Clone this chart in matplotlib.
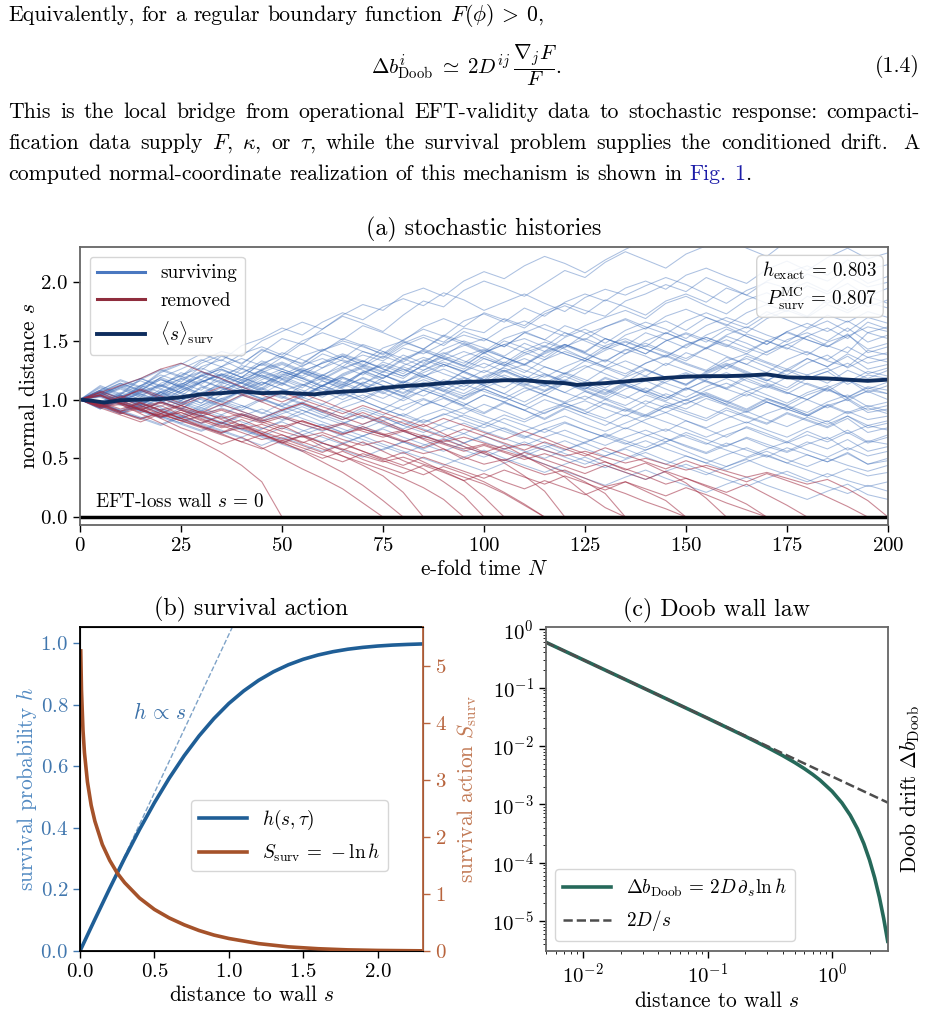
import numpy as np
import matplotlib
matplotlib.use("Agg")
import matplotlib.pyplot as plt
from matplotlib.lines import Line2D

plt.rcParams['font.family'] = 'cmr10'
plt.rcParams['mathtext.fontset'] = 'cm'
plt.rcParams['axes.formatter.use_mathtext'] = True
plt.rcParams['axes.unicode_minus'] = False

# ---------------- data ----------------
# panel (a): surviving histories, s in hundredths, evenly spread over N = 0..200
surviving = [
    [100,106,98,112,121,115,128,134,126,140,152,147,160,171,165,158,172,184,179,193,201,195,188,199,210,204,217,226,219,212,224,231,238,229,222,235,242,236,247,241,240],
    [100,112,105,118,126,120,133,141,137,150,158,166,160,172,181,176,189,195,188,201,209,203,214,222,216,208,219,228,236,230,241,248,239,245,256,249,242,253,261,255,250],
    [100,94,103,110,104,117,123,118,129,125,136,131,142,150,145,139,151,160,154,167,173,166,178,171,183,190,184,195,201,194,206,212,205,199,211,218,210,221,229,220,225],
    [100,105,111,104,97,108,115,122,117,110,121,129,135,128,141,136,148,155,149,161,157,169,163,175,182,176,171,184,190,198,192,204,197,189,201,208,214,206,219,211,215],
    [100,108,116,110,123,130,139,133,146,152,161,155,166,174,168,179,186,180,191,185,176,183,190,182,175,187,194,189,197,204,198,190,182,193,200,195,207,201,210,199,205],
    [100,97,104,98,109,103,115,121,114,126,132,125,120,131,138,133,144,139,148,155,150,161,167,160,154,163,170,176,169,182,188,180,173,185,191,184,197,190,199,188,195],
    [100,110,103,96,107,114,108,121,127,119,112,124,131,137,129,141,135,128,139,146,152,145,157,151,144,156,162,168,160,171,177,170,163,174,181,175,188,182,191,179,185],
    [100,93,101,108,102,95,106,113,119,112,124,118,111,122,129,123,134,141,135,128,140,147,152,145,157,150,143,155,161,167,159,170,164,157,169,176,170,181,174,183,178],
    [100,104,112,118,111,123,117,128,135,129,140,134,127,138,132,144,150,143,155,149,141,152,158,151,163,157,148,159,166,160,152,163,170,164,175,168,161,172,166,175,170],
    [100,96,89,98,106,99,111,104,115,121,114,125,119,112,123,129,122,134,128,137,143,136,130,141,147,140,152,146,139,150,156,149,160,154,147,158,165,158,167,157,162],
    [100,107,101,112,118,110,121,128,122,133,126,137,143,135,147,141,132,143,137,148,140,131,142,149,143,135,146,152,145,157,150,143,154,148,140,151,157,150,161,149,155],
    [100,92,99,106,112,105,97,108,115,109,120,126,119,113,124,118,129,136,130,124,135,129,140,146,139,133,144,150,143,136,147,153,146,139,150,144,138,149,155,143,148],
    [100,105,99,93,102,110,104,115,108,117,124,118,111,120,127,121,114,125,132,126,137,130,123,134,141,135,128,139,146,140,133,144,137,130,141,147,140,134,145,136,140],
    [100,98,106,100,94,103,97,108,114,107,101,112,118,111,123,116,109,120,126,119,113,124,130,122,116,127,134,127,120,131,125,118,129,135,128,121,131,138,127,136,132],
    [100,103,97,90,99,92,103,110,104,98,107,113,106,118,112,105,115,121,114,108,119,125,118,112,122,129,122,115,125,119,112,123,130,123,116,126,121,114,125,118,125],
    [100,95,102,96,104,111,105,98,107,101,94,103,110,104,115,109,102,113,107,118,112,105,116,122,115,109,119,113,106,117,123,116,110,120,114,108,118,124,113,121,118],
    [100,108,102,95,104,98,91,100,107,101,95,104,112,106,99,109,103,114,108,101,110,117,111,104,114,108,102,112,106,99,109,116,109,103,112,106,100,110,117,106,112],
    [100,94,88,96,103,97,90,99,93,101,108,102,96,105,99,92,101,108,102,95,104,98,107,113,106,100,109,103,96,105,99,108,114,107,101,95,104,110,99,108,105],
    [100,104,110,103,97,106,100,94,103,109,102,96,89,98,104,97,91,100,94,103,109,102,95,88,97,103,96,90,99,93,100,106,99,92,101,95,89,98,104,94,98],
    [100,97,91,99,93,86,95,101,95,88,97,91,84,93,99,92,86,95,101,94,88,97,91,84,93,99,92,86,95,89,97,103,96,90,98,92,86,95,100,89,92],
    [100,106,99,93,101,95,88,96,90,84,92,98,91,85,93,87,95,101,94,88,96,90,83,91,97,90,84,92,86,94,100,93,87,80,88,94,87,81,90,83,86],
    [100,93,98,91,85,93,87,80,88,82,90,96,89,83,91,85,78,86,92,85,79,87,81,89,95,88,82,75,83,89,82,76,84,90,83,77,85,79,86,76,80],
    [100,104,97,91,98,92,86,93,87,81,88,94,87,81,75,82,88,81,87,93,86,80,73,80,86,79,73,80,87,81,75,68,75,81,74,68,76,82,71,78,74],
    [100,95,89,96,90,84,91,85,78,85,91,84,78,72,79,85,78,72,80,87,81,75,68,75,81,74,68,62,69,75,68,62,70,76,69,63,70,64,72,63,68],
    [100,103,96,90,84,91,85,79,86,92,85,79,73,80,86,79,73,67,74,80,73,67,61,68,74,67,61,68,74,67,60,54,61,67,60,55,62,68,57,65,62],
    [100,96,90,84,92,86,80,87,81,75,82,88,81,75,69,76,82,75,69,63,70,76,69,63,57,64,70,63,57,64,70,63,57,51,58,64,57,51,59,52,56],
    [100,94,99,92,86,80,87,81,75,69,76,70,64,71,77,70,64,58,65,71,64,58,52,59,65,58,52,59,65,58,52,46,53,59,52,46,53,47,55,45,50],
    [100,97,91,85,79,86,80,74,68,75,81,74,68,62,69,75,68,62,56,63,69,62,56,50,57,63,56,50,57,63,56,49,43,50,56,49,43,50,44,39,44],
    [100,105,98,92,86,80,74,81,75,69,63,70,76,69,63,57,64,70,63,57,51,58,64,57,51,45,52,58,51,45,52,46,40,47,53,46,40,34,41,35,38],
    [100,94,88,95,89,83,77,71,78,72,66,73,79,72,66,60,54,61,67,60,54,48,55,61,54,48,42,49,55,48,42,36,43,49,42,36,30,37,31,26,30],
    [100,96,90,84,78,85,79,73,67,61,68,62,56,63,69,62,56,50,44,51,57,50,44,38,45,51,44,38,32,39,45,38,32,26,33,39,32,26,20,27,22],
    [100,103,97,91,85,79,73,80,74,68,62,56,63,57,51,58,64,57,51,45,39,46,52,45,39,33,27,34,40,33,27,21,28,34,27,21,15,22,28,19,15],
    [100,111,104,117,125,119,131,138,130,143,136,148,141,152,146,138,149,143,154,147,139,150,144,136,147,140,132,143,137,129,140,134,126,137,131,124,135,128,137,126,130],
    [100,92,101,95,88,97,104,98,91,100,107,101,112,119,113,124,118,130,137,131,142,136,129,140,147,141,152,146,139,150,157,151,145,156,150,143,154,161,152,166,160],
    [100,108,117,111,124,131,125,137,131,142,136,128,139,133,125,118,128,121,114,124,117,110,120,113,106,115,108,101,110,103,96,105,98,91,100,94,87,96,89,95,90],
    [100,106,113,107,119,112,124,118,110,121,114,106,116,109,101,110,103,95,104,97,89,98,91,83,92,85,78,87,80,73,82,75,68,77,71,64,73,66,74,64,70],
    [100,103,109,102,114,120,113,125,119,131,126,120,132,139,133,127,138,131,143,150,144,137,148,141,153,160,152,146,157,151,144,155,162,154,147,158,151,145,156,140,145],
    [100,97,105,112,106,99,110,117,111,123,117,110,121,115,108,119,126,119,113,124,131,124,117,128,122,115,126,133,126,119,113,124,131,124,117,110,121,127,115,124,120],
    [100,104,98,107,101,110,117,110,104,113,120,113,107,100,109,116,109,103,112,119,112,105,98,107,114,107,100,109,116,109,102,111,118,111,104,97,106,112,101,107,100],
    [100,108,101,95,106,113,121,115,126,120,113,124,131,137,130,124,135,142,135,129,140,147,140,134,145,152,145,139,150,157,150,144,155,162,155,149,160,167,158,170,165],
    [100,95,101,108,102,96,105,112,106,115,109,103,112,119,113,107,116,110,104,113,107,101,110,104,98,107,101,95,104,98,92,101,95,89,98,92,86,95,88,93,88],
    [100,102,95,104,111,118,112,106,117,124,118,112,121,128,121,132,126,119,130,124,117,128,135,128,122,133,127,120,131,138,131,125,136,130,123,134,141,133,128,142,138],
    [100,107,114,108,117,111,120,126,119,113,122,116,109,103,112,106,99,108,102,95,104,98,91,100,94,88,97,91,85,94,88,82,91,85,79,88,82,76,84,72,76],
    [100,94,102,109,103,113,120,126,119,131,137,130,142,148,141,135,146,153,146,158,152,145,157,164,157,151,162,169,162,156,167,174,167,161,172,178,171,185,176,188,182],
    [100,105,111,118,112,121,127,120,114,123,130,123,117,126,133,126,120,129,122,116,125,119,112,121,115,109,118,112,106,115,122,115,109,118,111,105,114,108,102,111,108],
    [100,96,103,97,106,112,105,99,108,115,109,103,112,105,114,121,115,108,117,111,120,127,120,114,123,117,110,119,126,119,113,122,129,122,116,125,118,124,131,122,127],
    [100,98,104,97,91,99,93,101,107,100,94,88,96,90,84,92,86,80,88,82,76,84,78,72,80,74,68,76,70,64,72,66,60,68,62,56,64,58,66,56,60],
    [100,104,112,105,99,108,116,110,119,125,118,127,121,114,123,130,124,133,140,133,127,136,130,139,146,139,133,142,148,141,135,144,151,144,138,147,154,146,140,157,152],
    [100,103,110,116,109,118,124,117,110,119,126,119,112,121,128,121,114,123,130,123,116,125,118,111,120,113,106,115,108,101,110,103,96,105,98,91,100,93,101,91,95],
    [100,106,114,108,119,126,134,128,139,145,138,150,157,151,163,157,150,162,169,162,174,168,161,173,180,173,185,179,172,184,190,183,195,189,182,193,200,192,205,196,200],
    [100,94,99,105,98,92,101,95,104,110,103,97,106,113,107,101,110,117,111,105,114,121,114,108,117,111,105,114,120,114,108,117,123,116,110,119,113,107,117,109,115],
    [100,104,97,106,112,106,115,121,114,108,117,123,116,110,119,112,105,114,107,100,109,102,95,104,97,91,100,93,87,96,90,84,93,86,80,89,83,77,86,78,82],
    [100,93,100,107,113,106,115,122,116,125,131,124,118,127,133,126,120,129,136,129,123,132,125,119,128,135,128,122,131,137,130,124,133,139,132,126,135,128,139,131,135],
    [100,97,90,97,91,85,93,87,95,89,83,91,85,79,87,81,75,83,77,71,79,73,67,75,69,63,71,65,59,67,61,55,63,57,51,59,53,47,54,45,48],
    [100,107,101,110,117,111,120,114,123,130,124,118,127,134,128,137,131,125,134,141,135,129,138,145,139,133,142,149,143,137,146,153,147,141,150,157,151,145,154,162,158],
    [100,96,104,98,107,101,95,104,111,105,114,108,102,111,118,112,106,115,109,103,112,119,113,107,116,110,104,113,107,101,110,104,98,107,113,106,100,109,102,110,105],
]
# removed histories, one value every 5 e-folds until the wall is hit
removed = [
    [100,93,96,88,80,72,64,55,44,30,0],
    [100,95,88,93,84,76,70,62,68,59,50,41,33,24,12,0],
    [100,104,96,89,95,87,80,86,78,71,63,69,60,52,44,35,21,0],
    [100,97,90,98,91,84,90,83,77,71,78,70,63,57,64,56,48,41,30,18,0],
    [100,106,99,92,85,91,84,77,83,76,70,63,70,63,56,49,55,47,39,31,17,0],
    [100,94,101,95,88,95,102,96,104,98,91,97,90,83,89,82,74,66,58,49,56,46,35,22,0],
    [100,106,112,118,126,131,124,118,111,104,98,105,99,92,86,80,73,79,71,63,55,61,52,43,34,20,8,0],
    [100,96,89,83,90,84,77,71,64,70,63,57,50,56,49,43,37,44,38,31,37,30,24,31,25,19,26,20,13,7,0],
    [100,107,101,109,103,97,104,111,105,99,106,100,94,88,95,89,83,77,84,78,72,66,73,67,60,54,47,40,46,38,29,16,0],
    [100,95,103,97,90,84,78,72,79,73,67,61,55,62,56,50,44,51,45,39,33,40,34,28,35,29,23,30,24,18,25,19,12,6,0],
    [100,104,97,91,98,92,86,80,87,81,75,82,76,70,77,71,65,59,66,60,54,48,55,49,43,37,44,38,32,39,33,27,21,28,19,10,0],
    [100,96,102,108,101,95,89,96,90,84,91,97,91,85,79,86,80,74,68,75,69,63,57,64,58,52,59,53,47,41,48,42,36,30,37,31,25,17,9,0],
    [100,93,87,81,88,82,76,70,64,58,65,59,53,47,54,48,42,36,43,37,30,21,11,0],
    [100,95,98,91,86,89,82,76,79,71,64,56,47,38,27,14,0],
    [100,96,90,94,87,82,86,80,75,79,73,68,72,66,61,65,59,54,58,51,45,49,42,36,40,33,26,30,22,14,0],
    [100,103,97,92,97,91,86,91,85,80,85,79,74,79,73,68,73,67,62,56,61,55,49,54,48,42,47,41,35,28,33,26,19,11,0],
    [100,95,89,84,88,82,77,72,76,70,65,69,63,58,52,47,51,45,40,34,28,20,10,0],
    [100,104,99,94,98,93,88,92,87,82,86,81,76,80,75,70,74,69,64,68,63,58,62,57,52,56,51,46,50,45,40,44,39,34,38,33,28,32,24,14,0],
    [100,98,92,97,91,95,89,84,88,83,77,82,76,71,75,70,64,69,63,58,62,56,51,45,38,30,20,0],
    [100,94,97,91,85,89,83,78,72,66,70,64,58,52,46,40,33,25,15,0],
]
mean_N = [0,3,6,10,15,20,25,30,35,40,45,50,55,58,62,66,70,75,80,85,90,95,100,105,110,115,120,123,127,130,
          135,140,145,150,155,160,165,170,175,180,185,190,195,200]
mean_s = [1.0,0.99,0.975,0.995,1.0,1.005,1.02,1.045,1.055,1.07,1.055,1.06,1.05,1.045,1.06,1.07,1.075,1.10,1.115,1.125,
          1.14,1.15,1.155,1.165,1.165,1.15,1.14,1.125,1.135,1.14,1.155,1.17,1.185,1.195,1.20,1.20,1.205,1.215,1.19,1.185,
          1.18,1.17,1.16,1.17]

# panel (b)
s_h = [0, 0.05, 0.1, 0.2, 0.3, 0.4, 0.5, 0.6, 0.7, 0.8, 0.9, 1.0, 1.1, 1.2, 1.3, 1.4, 1.5, 1.6, 1.7, 1.8, 1.9, 2.0, 2.1, 2.2, 2.3]
h_vals = [0, 0.0515, 0.1027, 0.2037, 0.3015, 0.3944, 0.4814, 0.5614, 0.6339, 0.6983, 0.7547, 0.8036, 0.8444, 0.8787,
          0.9067, 0.9293, 0.9472, 0.9611, 0.9718, 0.9799, 0.9858, 0.9902, 0.9933, 0.9954, 0.9970]
s_S = [0.005, 0.01, 0.02, 0.03, 0.05, 0.075, 0.1, 0.15, 0.2, 0.25, 0.3, 0.4, 0.5, 0.6, 0.7, 0.8, 0.9, 1.0, 1.2, 1.4, 1.6, 1.8, 2.0, 2.3]
S_vals = [5.27, 4.58, 3.88, 3.48, 2.97, 2.56, 2.28, 1.87, 1.59, 1.37, 1.20, 0.93, 0.73, 0.58, 0.46, 0.36, 0.28, 0.22,
          0.13, 0.073, 0.040, 0.020, 0.010, 0.003]
lin_s = [0, 1.1]
lin_h = [0, 1.13]

# panel (c)
s_c = [0.005, 0.01, 0.02, 0.05, 0.1, 0.2, 0.3, 0.4, 0.5, 0.6, 0.7, 0.8, 1.0, 1.2, 1.4, 1.6, 1.8, 2.0, 2.2, 2.4, 2.6, 2.8]
db_doob = [0.6, 0.3, 0.15, 0.0599, 0.02983, 0.01467, 0.00951, 0.006857, 0.005212, 0.004078, 0.003241, 0.002596,
           0.001671, 0.001059, 0.0006493, 0.0003808, 0.000212, 0.0001112, 5.50e-5, 2.55e-5, 1.106e-5, 4.50e-6]
db_wall = [0.6, 0.3, 0.15, 0.06, 0.03, 0.015, 0.01, 0.0075, 0.006, 0.005, 0.004286, 0.00375, 0.003, 0.0025,
           0.002143, 0.001875, 0.001667, 0.0015, 0.001364, 0.00125, 0.001154, 0.001071]

# ---------------- figure ----------------
W, H = 929, 1024
fig = plt.figure(figsize=(W / 100, H / 100), dpi=100)


def fx(px):
    return px / W


def fy(py):
    return 1 - py / H


PAR = 15.7
TICK = 15.0
LAB = 15.4
LEG = 13.8
TTL = 17.2
SPACE = 7.3

renderer = fig.canvas.get_renderer()


def words_line(words, base, x0, x1=None, weights=None, colors=None):
    txts = [fig.text(0, fy(base), w, fontsize=PAR, va='baseline',
                     color=(colors[i] if colors else 'black')) for i, w in enumerate(words)]
    widths = [t.get_window_extent(renderer).width for t in txts]
    if weights is None:
        weights = [1] * (len(words) - 1)
    if x1 is None:
        gap = SPACE
    else:
        gap = (x1 - x0 - sum(widths)) / sum(weights)
    x = x0
    for i, (t, w) in enumerate(zip(txts, widths)):
        t.set_x(fx(x))
        if i < len(weights):
            x += w + gap * weights[i]


words_line(['Equivalently,', 'for', 'a', 'regular', 'boundary', 'function', r'$F(\phi)\:>\:0$,'], 21, 8)
fig.text(fx(466), fy(65), r'$\Delta b^{i}_{\mathrm{Doob}} \;\simeq\; 2D^{ij}\,\dfrac{\nabla_j F}{F}.$',
         fontsize=15.2, ha='center', va='center')
fig.text(fx(920), fy(72), '(1.4)', fontsize=PAR, ha='right', va='baseline')

words_line('This is the local bridge from operational EFT-validity data to stochastic response: compacti-'.split(),
           118, 8, 920)
line3 = ['fication', 'data', 'supply', r'$F$,', r'$\kappa$,', 'or', r'$\tau$,', 'while', 'the', 'survival',
         'problem', 'supplies', 'the', 'conditioned', 'drift.', 'A']
words_line(line3, 149, 8, 920, weights=[1] * 14 + [1.6])
line4 = 'computed normal-coordinate realization of this mechanism is shown in Fig. 1'.split()
words_line(line4 + ['.'], 180, 8, weights=[1] * (len(line4) - 1) + [0],
           colors=['black'] * (len(line4) - 2) + ['#1c1ca8', '#1c1ca8', 'black'])

# ---- panel (a)
axA = fig.add_axes([fx(80), fy(525), (888 - 80) / W, (525 - 247) / H])
for p in surviving:
    axA.plot(np.linspace(0, 200, len(p)), np.array(p) / 100, color='#3a6bb8', lw=0.75, alpha=0.42)
for p in removed:
    axA.plot(np.arange(len(p)) * 5, np.array(p) / 100, color='#a02a40', lw=0.8, alpha=0.55)
axA.plot(mean_N, mean_s, color='#0e2d5e', lw=2.8)
axA.axhline(0, color='black', lw=2.5)
axA.set_xlim(0, 200)
axA.set_ylim(-0.068, 2.3)
axA.set_xticks([0, 25, 50, 75, 100, 125, 150, 175, 200])
axA.set_yticks([0.0, 0.5, 1.0, 1.5, 2.0])
axA.set_xlabel('e-fold time $N$', fontsize=LAB, labelpad=3)
axA.set_ylabel('normal distance $s$', fontsize=LAB, labelpad=1)
axA.set_title('(a) stochastic histories', fontsize=TTL, pad=8)
axA.text(3.7, 0.085, r'EFT-loss wall $s\,=\,0$', fontsize=LEG, va='baseline')
axA.text(0.987, 0.955, r'$h_{\rm exact}\,=\,0.803$' + '\n' + r'$P^{\rm MC}_{\rm surv}\,=\,0.807$',
         transform=axA.transAxes, ha='right', va='top', multialignment='right', fontsize=LEG,
         bbox=dict(boxstyle='round,pad=0.3', fc='white', ec='0.8', alpha=0.85))
handles = [Line2D([], [], color='#4a78c0', lw=2.2), Line2D([], [], color='#8f2d3d', lw=2.2),
           Line2D([], [], color='#0e2d5e', lw=2.8)]
axA.legend(handles, ['surviving', 'removed', r'$\langle s\rangle_{\rm surv}$'], loc='upper left',
           fontsize=LEG, handlelength=2.5)

# ---- panel (b)
hc, Sc = '#1f5e96', '#a5522a'
axB = fig.add_axes([fx(80), fy(951), (423 - 80) / W, (951 - 627) / H])
axB.plot(lin_s, lin_h, color='#7fa3c8', lw=1.0, ls='--')
lh, = axB.plot(s_h, h_vals, color=hc, lw=2.6)
axB.set_xlim(0, 2.305)
axB.set_ylim(0, 1.052)
axB.set_xticks([0.0, 0.5, 1.0, 1.5, 2.0])
axB.set_yticks([0.0, 0.2, 0.4, 0.6, 0.8, 1.0])
axB.tick_params(axis='y', colors='#4177ae')
axB.set_ylabel('survival probability $h$', fontsize=LAB, color='#528ac2', labelpad=1)
axB.set_xlabel('distance to wall $s$', fontsize=LAB, labelpad=3)
axB.set_title('(b) survival action', fontsize=TTL, pad=8)
axB.text(0.355, 0.752, r'$h\,\propto\,s$', fontsize=LAB, color='#3a70a8')
axB2 = axB.twinx()
lS, = axB2.plot(s_S, S_vals, color=Sc, lw=2.6)
axB2.set_ylim(0, 5.69)
axB2.set_yticks([0, 1, 2, 3, 4, 5])
axB2.tick_params(axis='y', colors='#b8643d')
axB2.spines['right'].set_color('#b8643d')
axB2.set_ylabel(r'survival action $S_{\rm surv}$', fontsize=LAB, color='#c27a56', labelpad=6)
axB2.legend([lh, lS], [r'$h(s,\tau)$', r'$S_{\rm surv}\,=\,-\ln h$'], loc='center right',
            bbox_to_anchor=(0.925, 0.356), fontsize=LEG, handlelength=2.5)

# ---- panel (c)
axC = fig.add_axes([fx(545.7), fy(950.7), (887.7 - 545.7) / W, (950.7 - 627.3) / H])
axC.plot(s_c, db_doob, color='#26695a', lw=2.6, label=r'$\Delta b_{\rm Doob}\,=\,2D\,\partial_s \ln h$')
axC.plot(s_c, db_wall, color='#4d4d4d', lw=1.8, ls='--', label='$2D/s$')
axC.set_xscale('log')
axC.set_yscale('log')
axC.set_xlim(0.005, 2.8)
axC.set_ylim(3.1e-6, 1.08)
axC.yaxis.set_label_position('right')
axC.set_ylabel(r'Doob drift $\Delta b_{\rm Doob}$', fontsize=LAB, labelpad=8)
axC.set_xlabel('distance to wall $s$', fontsize=LAB, labelpad=3)
axC.set_title('(c) Doob wall law', fontsize=TTL, pad=8)
axC.legend(loc='lower left', fontsize=LEG, handlelength=2.5)

for ax in (axA, axC):
    for sp in ax.spines.values():
        sp.set_color('0.4')
        sp.set_linewidth(1.3)
for ax in (axA, axB, axB2, axC):
    ax.tick_params(labelsize=TICK, length=5, width=1.0)
for sp in ('left', 'bottom', 'top'):
    axB.spines[sp].set_linewidth(1.3)
axB2.spines['right'].set_linewidth(1.3)

fig.savefig('out.png', dpi=100)
